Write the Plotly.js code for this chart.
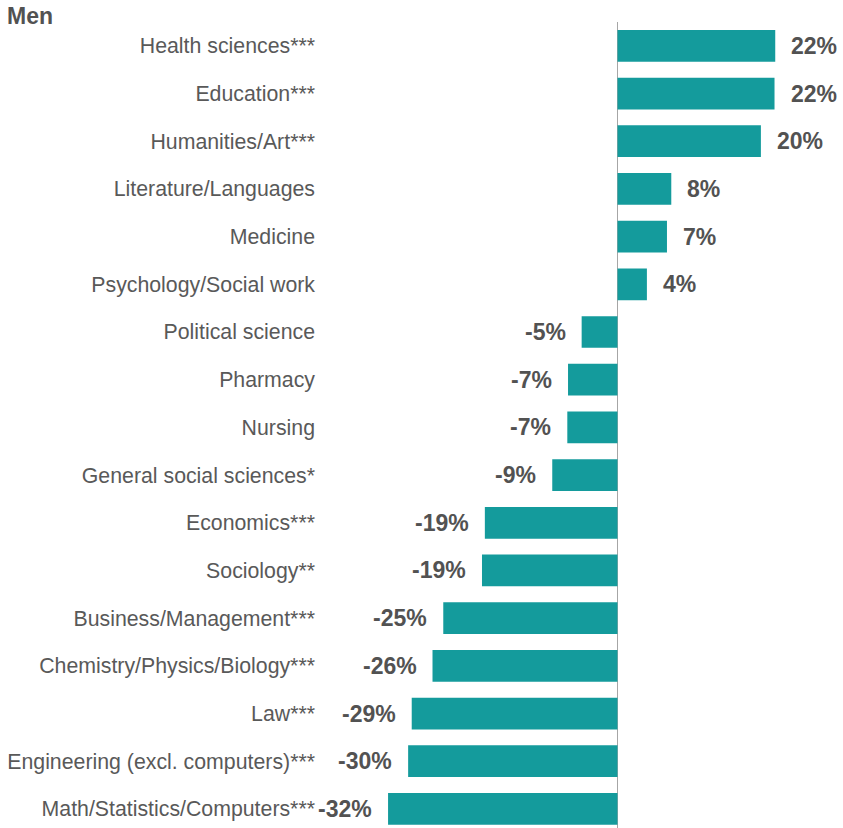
<!DOCTYPE html>
<html>
<head>
<meta charset="utf-8">
<script src="https://cdn.plot.ly/plotly-3.0.1.min.js"></script>
<style>html,body{margin:0;padding:0;background:#fff;}#chart{width:843px;height:828px;}</style>
</head>
<body>
<div id="chart"></div>
<script>
const categories = [
  "Health sciences***",
  "Education***",
  "Humanities/Art***",
  "Literature/Languages",
  "Medicine",
  "Psychology/Social work",
  "Political science",
  "Pharmacy",
  "Nursing",
  "General social sciences*",
  "Economics***",
  "Sociology**",
  "Business/Management***",
  "Chemistry/Physics/Biology***",
  "Law***",
  "Engineering (excl. computers)***",
  "Math/Statistics/Computers***"
];
const values = [22.0, 21.9, 20.0, 7.5, 6.9, 4.1, -5.0, -6.9, -7.0, -9.1, -18.5, -18.9, -24.3, -25.8, -28.7, -29.2, -32.0];
const valueLabels = ["22%", "22%", "20%", "8%", "7%", "4%", "-5%", "-7%", "-7%", "-9%", "-19%", "-19%", "-25%", "-26%", "-29%", "-30%", "-32%"];

const barColor = "#149B9C";
const textColor = "#595959";

const trace = {
  type: "bar",
  orientation: "h",
  x: values,
  y: categories,
  marker: {color: barColor},
  hoverinfo: "x+y"
};

const annotations = values.map((v, i) => ({
  x: v,
  y: categories[i],
  xref: "x",
  yref: "y",
  text: "<b>" + valueLabels[i] + "</b>",
  showarrow: false,
  xanchor: v >= 0 ? "left" : "right",
  xshift: v >= 0 ? 14 : -14,
  yanchor: "middle",
  font: {family: "Liberation Sans, Arial, sans-serif", size: 23, color: "#525252"}
}));

const pxPerUnit = 7.17;
const zeroPx = 617.5;
const marginL = 322;
const layout = {
  width: 843,
  height: 828,
  margin: {l: marginL, r: 0, t: 22, b: 0},
  paper_bgcolor: "#fff",
  plot_bgcolor: "#fff",
  showlegend: false,
  bargap: 0.335,
  title: {
    text: "<b>Men</b>",
    xref: "container",
    yref: "container",
    x: 7 / 843,
    xanchor: "left",
    y: 1 - 16 / 828,
    yanchor: "middle",
    font: {family: "Liberation Sans, Arial, sans-serif", size: 23, color: "#525252"}
  },
  xaxis: {
    range: [-(zeroPx - marginL) / pxPerUnit, (843 - zeroPx) / pxPerUnit],
    showgrid: false,
    showticklabels: false,
    ticks: "",
    zeroline: true,
    zerolinecolor: "#A6A6A6",
    zerolinewidth: 1.5,
    showline: false,
    fixedrange: true
  },
  yaxis: {
    type: "category",
    range: [16.4, -0.5],
    showgrid: false,
    zeroline: false,
    showline: false,
    ticks: "",
    ticklabelstandoff: 6,
    tickfont: {family: "Liberation Sans, Arial, sans-serif", size: 21.3, color: textColor},
    automargin: false,
    fixedrange: true
  },
  annotations: annotations
};

Plotly.newPlot("chart", [trace], layout, {displayModeBar: false, staticPlot: true});
</script>
</body>
</html>
